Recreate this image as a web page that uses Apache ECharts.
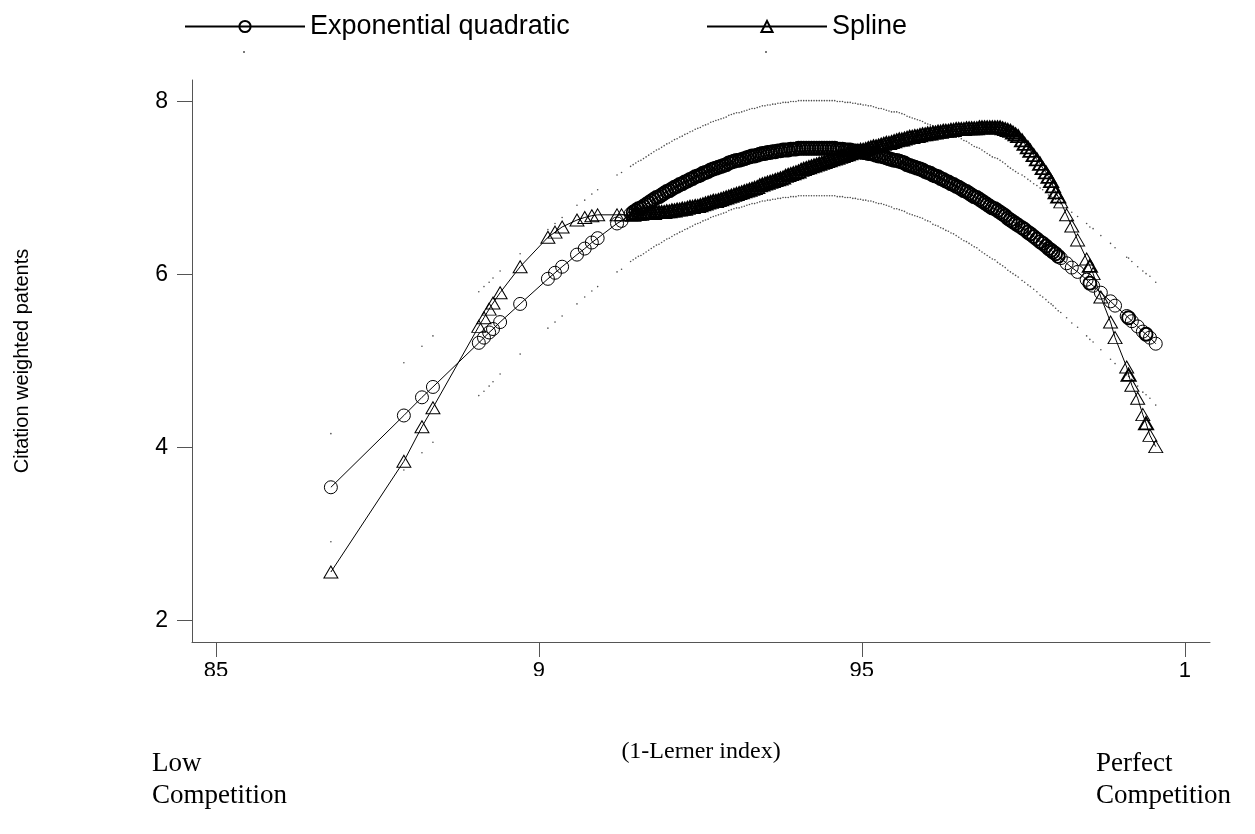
<!DOCTYPE html>
<html><head><meta charset="utf-8">
<script src="https://cdn.jsdelivr.net/npm/echarts@6/dist/echarts.min.js"></script>
<style>html,body{margin:0;padding:0;background:#fff}#c{width:1255px;height:834px}</style>
</head><body><div id="c"></div>
<script>
// (1-Lerner index) observations
const lerner = [
.8678,.8791,.8819,.8836,.8907,.8915,.8923,.8929,.8940,.8971,.9014,.9025,.9036,.9059,.9071,.9082,.9091,.9121,.9128,
.9142,.9146,.9150,.9154,.9158,.9162,.9166,.9170,.9174,.9178,
.9182,.9186,.9190,.9194,.9198,.9202,.9206,.9210,.9214,.9218,
.9222,.9226,.9230,.9234,.9238,.9242,.9246,.9250,.9254,.9258,
.9262,.9266,.9270,.9274,.9278,.9282,.9286,.9290,.9294,.9298,
.9302,.9306,.9310,.9314,.9318,.9322,.9326,.9330,.9334,.9338,
.9342,.9346,.9350,.9354,.9358,.9362,.9366,.9370,.9374,.9378,
.9382,.9386,.9390,.9394,.9398,.9402,.9406,.9410,.9414,.9418,
.9422,.9426,.9430,.9434,.9438,.9442,.9446,.9450,.9454,.9458,
.9462,.9466,.9470,.9474,.9478,.9482,.9486,.9490,.9494,.9498,
.9502,.9506,.9510,.9514,.9518,.9522,.9526,.9530,.9534,.9538,
.9542,.9546,.9550,.9554,.9558,.9562,.9566,.9570,.9574,.9578,
.9582,.9586,.9590,.9594,.9598,.9602,.9606,.9610,.9614,.9618,
.9622,.9626,.9630,.9634,.9638,.9642,.9646,.9650,.9654,.9658,
.9662,.9666,.9670,.9674,.9678,.9682,.9686,.9690,.9694,.9698,
.9702,.9706,.9710,.9714,.9718,.9722,.9726,.9730,.9734,.9738,
.9742,
.9748,.9752,.9757,.9761,.9766,.9771,.9776,.9780,.9785,.9789,.9793,.9796,.9800,.9804,.9808,
.9817,.9825,.9834,.9848,.9853,.9858,.9870,.9885,.9892,.9910,.9913,.9918,.9927,.9935,.9940,.9946,.9955
];
// Exponential quadratic fit
const expQuad = [
3.54,4.37,4.58,4.70,5.21,5.27,5.33,5.37,5.45,5.66,5.95,6.02,6.09,6.23,6.30,6.37,6.42,6.59,6.62,
6.70,6.72,6.74,6.76,6.77,6.79,6.81,6.83,6.85,6.87,
6.89,6.90,6.92,6.94,6.96,6.97,6.99,7.01,7.02,7.04,
7.05,7.07,7.08,7.10,7.11,7.13,7.14,7.15,7.17,7.18,
7.19,7.21,7.22,7.23,7.24,7.25,7.26,7.27,7.29,7.30,
7.31,7.32,7.32,7.33,7.34,7.35,7.36,7.37,7.37,7.38,
7.39,7.40,7.40,7.41,7.41,7.42,7.42,7.43,7.43,7.44,
7.44,7.44,7.45,7.45,7.45,7.46,7.46,7.46,7.46,7.46,
7.46,7.46,7.46,7.46,7.46,7.46,7.46,7.46,7.46,7.46,
7.45,7.45,7.45,7.44,7.44,7.44,7.43,7.43,7.42,7.42,
7.41,7.41,7.40,7.40,7.39,7.38,7.37,7.37,7.36,7.35,
7.34,7.33,7.32,7.32,7.31,7.30,7.29,7.27,7.26,7.25,
7.24,7.23,7.22,7.21,7.19,7.18,7.17,7.15,7.14,7.13,
7.11,7.10,7.08,7.07,7.05,7.04,7.02,7.01,6.99,6.97,
6.96,6.94,6.92,6.90,6.89,6.87,6.85,6.83,6.81,6.79,
6.77,6.76,6.74,6.72,6.70,6.68,6.65,6.63,6.61,6.59,
6.57,
6.54,6.52,6.49,6.47,6.44,6.41,6.38,6.36,6.33,6.30,6.28,6.26,6.24,6.21,6.19,
6.13,6.08,6.03,5.94,5.90,5.87,5.79,5.69,5.64,5.52,5.50,5.46,5.40,5.34,5.31,5.27,5.20
];
// Spline fit
const spline = [
2.56,3.84,4.24,4.46,5.40,5.50,5.60,5.67,5.79,6.09,6.43,6.49,6.55,6.63,6.66,6.68,6.69,6.69,6.69,
6.69,6.69,6.70,6.70,6.70,6.71,6.71,6.71,6.71,6.71,
6.72,6.72,6.72,6.72,6.73,6.73,6.74,6.74,6.75,6.75,
6.76,6.76,6.77,6.78,6.78,6.79,6.79,6.80,6.81,6.82,
6.83,6.84,6.85,6.85,6.86,6.87,6.88,6.89,6.90,6.91,
6.92,6.93,6.94,6.95,6.96,6.97,6.98,6.99,7.00,7.01,
7.03,7.04,7.05,7.06,7.07,7.08,7.09,7.10,7.11,7.12,
7.14,7.15,7.16,7.17,7.18,7.19,7.21,7.22,7.23,7.24,
7.25,7.26,7.27,7.28,7.29,7.30,7.31,7.32,7.33,7.34,
7.35,7.36,7.37,7.38,7.39,7.40,7.41,7.42,7.43,7.44,
7.44,7.45,7.46,7.47,7.48,7.48,7.49,7.50,7.51,7.52,
7.52,7.53,7.54,7.55,7.56,7.56,7.57,7.58,7.59,7.59,
7.60,7.60,7.61,7.62,7.62,7.63,7.63,7.64,7.64,7.65,
7.65,7.66,7.66,7.66,7.67,7.67,7.68,7.68,7.68,7.68,
7.69,7.69,7.69,7.69,7.69,7.70,7.70,7.70,7.70,7.70,
7.70,7.70,7.70,7.70,7.69,7.68,7.67,7.66,7.64,7.62,
7.60,
7.55,7.51,7.47,7.43,7.38,7.33,7.28,7.23,7.18,7.13,7.08,7.02,6.95,6.90,6.84,
6.69,6.56,6.40,6.18,6.10,6.01,5.74,5.45,5.27,4.93,4.84,4.72,4.57,4.38,4.28,4.14,4.01
];
// Confidence band of the exponential quadratic fit
const ciUpper = [
4.16,4.98,5.17,5.29,5.80,5.86,5.91,5.96,6.04,6.24,6.52,6.59,6.66,6.80,6.86,6.93,6.98,7.15,7.18,
7.25,7.27,7.29,7.31,7.32,7.34,7.36,7.38,7.40,7.42,
7.44,7.45,7.47,7.49,7.51,7.52,7.54,7.56,7.57,7.59,
7.60,7.62,7.63,7.65,7.66,7.68,7.69,7.70,7.72,7.73,
7.74,7.76,7.77,7.78,7.79,7.80,7.81,7.82,7.84,7.85,
7.86,7.87,7.87,7.88,7.89,7.90,7.91,7.92,7.92,7.93,
7.94,7.95,7.95,7.96,7.96,7.97,7.97,7.98,7.98,7.99,
7.99,7.99,8.00,8.00,8.00,8.01,8.01,8.01,8.01,8.01,
8.01,8.01,8.01,8.01,8.01,8.01,8.01,8.01,8.01,8.01,
8.00,8.00,8.00,7.99,7.99,7.99,7.98,7.98,7.97,7.97,
7.96,7.96,7.95,7.95,7.94,7.93,7.92,7.92,7.91,7.90,
7.89,7.88,7.88,7.88,7.87,7.86,7.85,7.83,7.82,7.81,
7.80,7.79,7.78,7.77,7.75,7.74,7.73,7.72,7.71,7.70,
7.68,7.67,7.65,7.64,7.62,7.61,7.59,7.59,7.57,7.55,
7.54,7.52,7.50,7.48,7.47,7.46,7.44,7.42,7.40,7.38,
7.36,7.35,7.34,7.32,7.30,7.28,7.25,7.23,7.21,7.19,
7.17,
7.15,7.13,7.10,7.08,7.05,7.03,7.00,6.98,6.95,6.92,6.90,6.89,6.87,6.84,6.82,
6.77,6.72,6.67,6.59,6.55,6.53,6.45,6.36,6.31,6.20,6.19,6.15,6.09,6.04,6.01,5.98,5.91
];
const ciLower = [
2.91,3.74,3.94,4.06,4.60,4.65,4.71,4.76,4.85,5.08,5.38,5.45,5.52,5.66,5.74,5.81,5.86,6.03,6.06,
6.15,6.17,6.19,6.21,6.22,6.24,6.26,6.28,6.30,6.32,
6.34,6.35,6.37,6.39,6.41,6.42,6.44,6.46,6.47,6.49,
6.50,6.52,6.53,6.55,6.56,6.58,6.59,6.60,6.62,6.63,
6.64,6.66,6.67,6.68,6.69,6.70,6.71,6.72,6.74,6.75,
6.76,6.77,6.77,6.78,6.79,6.80,6.81,6.82,6.82,6.83,
6.84,6.85,6.85,6.86,6.86,6.87,6.87,6.88,6.88,6.89,
6.89,6.89,6.90,6.90,6.90,6.91,6.91,6.91,6.91,6.91,
6.91,6.91,6.91,6.91,6.91,6.91,6.91,6.91,6.91,6.91,
6.90,6.90,6.90,6.89,6.89,6.89,6.88,6.88,6.87,6.87,
6.86,6.86,6.85,6.85,6.84,6.83,6.82,6.82,6.81,6.80,
6.79,6.78,6.76,6.76,6.75,6.74,6.73,6.71,6.70,6.69,
6.68,6.67,6.66,6.65,6.63,6.62,6.61,6.58,6.57,6.56,
6.54,6.53,6.51,6.50,6.48,6.47,6.45,6.43,6.41,6.39,
6.38,6.36,6.34,6.32,6.31,6.28,6.26,6.24,6.22,6.20,
6.18,6.17,6.14,6.12,6.10,6.08,6.05,6.03,6.01,5.99,
5.97,
5.93,5.91,5.88,5.86,5.83,5.80,5.76,5.74,5.71,5.68,5.66,5.64,5.61,5.58,5.56,
5.50,5.44,5.39,5.29,5.25,5.22,5.13,5.02,4.97,4.84,4.82,4.77,4.71,4.64,4.61,4.57,4.49
];
const xTicks = [0.85, 0.9, 0.95, 1];
const xTickLabels = ['85', '9', '95', '1'];
const yTicks = [2, 4, 6, 8];
const seriesNames = ['Exponential quadratic', 'Spline', 'CI upper', 'CI lower'];

const sans = '"Liberation Sans", Arial, sans-serif';
const serif = '"Liberation Serif", "Times New Roman", serif';
const axisGray = '#555';

// where many observations pile up, the hollow markers merge into a dark band
const crowded = lerner.map((x, i) => {
  const gl = i > 0 ? x - lerner[i - 1] : 1;
  const gr = i < lerner.length - 1 ? lerner[i + 1] - x : 1;
  return Math.max(gl, gr) < 0.00065;
});
const markerPairs = ys => lerner.map((x, i) => crowded[i]
  ? {value: [x, ys[i]], itemStyle: {borderWidth: 1.9}}
  : [x, ys[i]]);
const pairs = ys => lerner.map((x, i) => [x, ys[i]]);

const chart = echarts.init(document.getElementById('c'), null, {renderer: 'canvas'});
const hollow = {color: 'rgba(0,0,0,0)', borderColor: '#000', borderWidth: 1};
const legendBase = {orient: 'horizontal', top: 13, itemHeight: 14, itemGap: 0, selectedMode: false,
  textStyle: {fontFamily: sans, fontSize: 27, color: '#000'}, padding: 0};

chart.setOption({
  animation: false,
  backgroundColor: '#fff',
  grid: {left: 192, right: 45, top: 80, bottom: 192, containLabel: false},
  legend: [
    Object.assign({}, legendBase, {data: [seriesNames[0]], left: 184, itemWidth: 120}),
    Object.assign({}, legendBase, {data: [seriesNames[1]], left: 706, itemWidth: 120}),
    {data: [seriesNames[2]], left: 243, top: 51, itemWidth: 2, itemHeight: 2, padding: 0, selectedMode: false, formatter: () => ''},
    {data: [seriesNames[3]], left: 765, top: 51, itemWidth: 2, itemHeight: 2, padding: 0, selectedMode: false, formatter: () => ''}
  ],
  xAxis: {
    type: 'value', min: 0.8463, max: 1.0039,
    name: '(1-Lerner index)', nameLocation: 'middle', nameGap: 98,
    nameTextStyle: {fontFamily: serif, fontSize: 24, color: '#000'},
    axisLine: {show: true, onZero: false, lineStyle: {color: axisGray, width: 1}},
    axisTick: {show: true, length: 15, customValues: xTicks, lineStyle: {color: axisGray}},
    axisLabel: {customValues: xTicks, margin: 18, fontFamily: sans, fontSize: 22, color: '#000',
      formatter: v => xTickLabels[xTicks.findIndex(t => Math.abs(t - v) < 1e-9)]},
    splitLine: {show: false}
  },
  yAxis: {
    type: 'value', min: 1.751, max: 8.249,
    name: 'Citation weighted patents', nameLocation: 'middle', nameGap: 160, nameRotate: 90,
    nameTextStyle: {fontFamily: sans, fontSize: 20, color: '#000'},
    axisLine: {show: true, onZero: false, lineStyle: {color: axisGray, width: 1}},
    axisTick: {show: true, length: 15, customValues: yTicks, lineStyle: {color: axisGray}},
    axisLabel: {customValues: yTicks, margin: 24, fontFamily: sans, fontSize: 23, color: '#000'},
    splitLine: {show: false}
  },
  series: [
    {name: seriesNames[0], type: 'line', data: markerPairs(expQuad), symbol: 'circle', symbolSize: 13,
      itemStyle: hollow, lineStyle: {color: '#000', width: 1}, z: 3},
    {name: seriesNames[1], type: 'line', data: markerPairs(spline), symbol: 'triangle', symbolSize: [14, 12],
      itemStyle: hollow, lineStyle: {color: '#000', width: 1}, z: 4},
    {name: seriesNames[2], type: 'scatter', data: pairs(ciUpper), symbol: 'circle', symbolSize: 1.6,
      itemStyle: {color: '#222'}, z: 2},
    {name: seriesNames[3], type: 'scatter', data: pairs(ciLower), symbol: 'circle', symbolSize: 1.6,
      itemStyle: {color: '#222'}, z: 2}
  ]
});

// bottom captions, plus the cropped lower edge of the x tick labels seen in the original
const axisY = chart.convertToPixel({yAxisIndex: 0}, 1.751);
const cover = xTicks.slice(0, 3).map(t => {
  const px = chart.convertToPixel({xAxisIndex: 0}, t);
  return {type: 'rect', z: 100, silent: true, shape: {x: px - 20, y: axisY + 34, width: 40, height: 14}, style: {fill: '#fff'}};
});
chart.setOption({
  graphic: [
    {type: 'text', left: 152, top: 748, style: {text: 'Low\nCompetition', font: '27px ' + serif, lineHeight: 32, fill: '#000'}},
    {type: 'text', left: 1096, top: 748, style: {text: 'Perfect\nCompetition', font: '27px ' + serif, lineHeight: 32, fill: '#000'}}
  ].concat(cover)
});
</script>
</body></html>
